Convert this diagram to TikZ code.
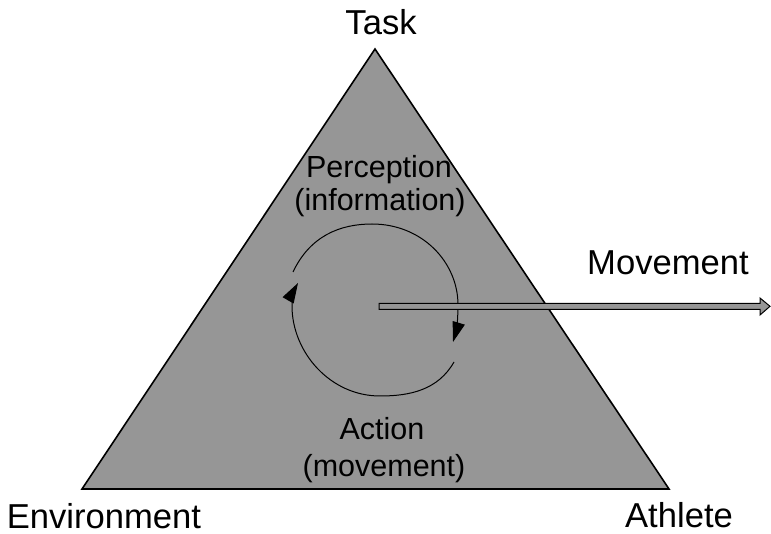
\documentclass[tikz,border=0pt]{standalone}
\usepackage{fontspec}
\setmainfont{Liberation Sans}
\usetikzlibrary{arrows.meta}

\definecolor{trigray}{RGB}{150,150,150}

\tikzset{
    cornerlabel/.style={font=\fontsize{34.6}{40}\selectfont, anchor=base, inner sep=0pt},
    looplabel/.style={font=\fontsize{30.5}{34}\selectfont, anchor=base, inner sep=0pt},
    looparc/.style={draw, line width=1pt, -{Triangle[length=20pt,width=12.5pt]}}
}

\begin{document}
\begin{tikzpicture}[x=1pt, y=-1pt]
    \useasboundingbox (0,0) rectangle (771,534);

    % the triangle
    \path[draw, fill=trigray, line width=1.6pt, line join=miter]
        (375,49) -- (82,489) -- (669,489) -- cycle;

    % corner labels
    \node[cornerlabel] (task) at (381,35) {Task};
    \node[cornerlabel] (envir) at (104,528) {Environment};
    \node[cornerlabel] (athl) at (679,527) {Athlete};
    \node[cornerlabel] (move) at (668,275) {Movement};

    % the perception-action loop
    \node[looplabel] (perc) at (379,178) {Perception};
    \node[looplabel] (info) at (380,211) {(information)};
    \node[looplabel] (act) at (382,439) {Action};
    \node[looplabel] (actmov) at (384,476) {(movement)};

    \path[looparc] (293,272) .. controls (310,236) and (340,224) .. (372,224)
                   .. controls (422,224) and (458,262) .. (458,305)
                   .. controls (458,320) and (456,332) .. (453,342);
    \path[looparc] (454,362) .. controls (438,390) and (410,396) .. (380,396)
                   .. controls (330,396) and (292,352) .. (292,306)
                   .. controls (292,297) and (294,290) .. (298,283);

    % the movement arrow
    \coordinate (hub) at (379,306.3);
    \path[draw, fill=trigray, line width=1pt, line join=miter]
        (hub) ++(0,-3) -- (760,303.3) -- (760,298) -- (770,306.3)
        -- (760,315) -- (760,309.3) -- (379,309.3) -- cycle;

\end{tikzpicture}
\end{document}
